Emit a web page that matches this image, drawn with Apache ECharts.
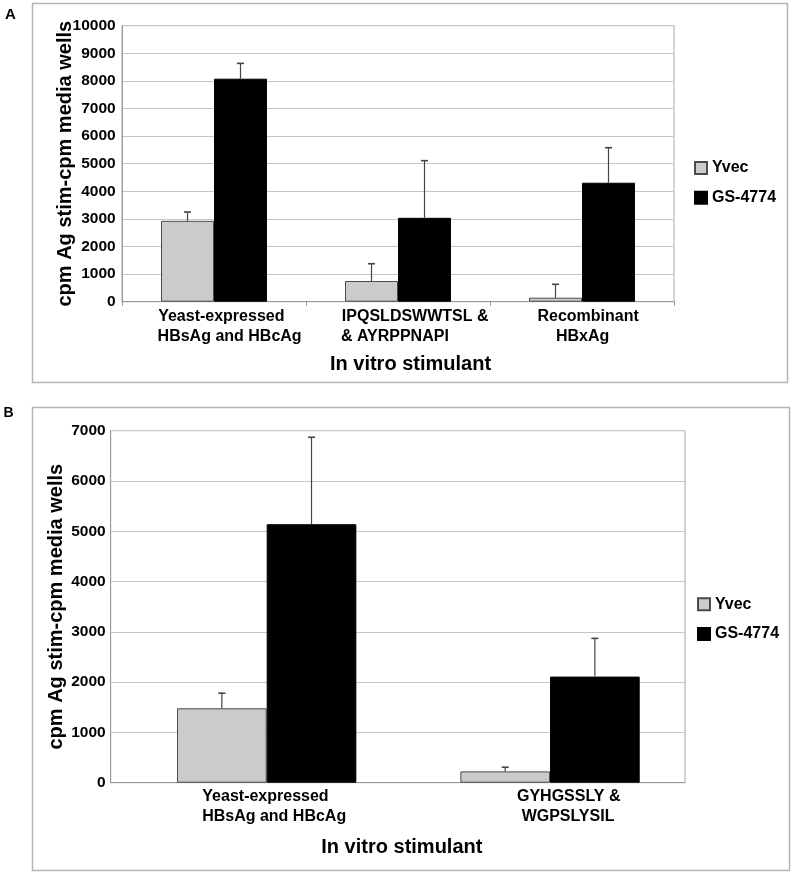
<!DOCTYPE html>
<html><head><meta charset="utf-8">
<script src="https://cdn.jsdelivr.net/npm/echarts@6/dist/echarts.min.js"></script>
<style>html,body{margin:0;padding:0;background:#fff}#c{width:794px;height:875px}</style>
</head><body><div id="c"></div>
<script>
// ---------- data ----------
const seriesNames = ["Yvec", "GS-4774"];
const xTitle = "In vitro stimulant";
const yTitle = "cpm Ag stim-cpm media wells";

// Panel A
const catsA = [["Yeast-expressed", "HBsAg and HBcAg"], ["IPQSLDSWWTSL &", "& AYRPPNAPI"], ["Recombinant", "HBxAg"]];
const yvecA = [2930, 750, 145];
const yvecAErr = [320, 625, 485];
const gsA = [8080, 3040, 4310];
const gsAErr = [555, 2070, 1270];
const yTicksA = [0, 1000, 2000, 3000, 4000, 5000, 6000, 7000, 8000, 9000, 10000];

// Panel B
const catsB = [["Yeast-expressed", "HBsAg and HBcAg"], ["GYHGSSLY &", "WGPSLYSIL"]];
const yvecB = [1480, 225];
const yvecBErr = [300, 82];
const gsB = [5140, 2110];
const gsBErr = [1730, 760];
const yTicksB = [0, 1000, 2000, 3000, 4000, 5000, 6000, 7000];

// ---------- styles ----------
const FF = "'Liberation Sans', Arial, Helvetica, sans-serif";
const GRID_COLOR = '#c6c6c6';
const FRAME_COLOR = '#a8a8a8';
const YVEC_COLOR = '#cbcbcb';
const GAP_A = 0.424, GAP_B = 0.367;

function richFor(shifts) {
  const r = {};
  shifts.forEach((s, i) => {
    ['a', 'b'].forEach((k, j) => {
      const v = s[j];
      r[k + i] = {
        fontFamily: FF, fontSize: 16, fontWeight: 'bold', color: '#000', lineHeight: 20,
        padding: v >= 0 ? [0, 0, 0, 2 * v] : [0, -2 * v, 0, 0]
      };
    });
  });
  return r;
}
function labelFmt(cats) {
  return (val, idx) => `{a${idx}|${cats[idx][0]}}\n{b${idx}|${cats[idx][1]}}`;
}
function errSeries(name, vals, errs, k, gap, xi, yi) {
  return {
    type: 'custom', name: name, xAxisIndex: xi, yAxisIndex: yi, z: 5, silent: true,
    data: vals.map((v, i) => [i, v, v + errs[i]]),
    encode: { x: 0, y: [1, 2] },
    renderItem: (params, api) => {
      const c = api.coord([api.value(0), api.value(1)]);
      const t = api.coord([api.value(0), api.value(2)]);
      const cw = api.size([1, 0])[0];
      const bw = cw * (1 - gap) / 2;
      const x = c[0] + (k - 0.5) * bw;
      return {
        type: 'group', children: [
          { type: 'line', shape: { x1: x, y1: c[1], x2: x, y2: t[1] }, style: { stroke: '#444', lineWidth: 1.2 } },
          { type: 'line', shape: { x1: x - 3.5, y1: t[1], x2: x + 3.5, y2: t[1] }, style: { stroke: '#444', lineWidth: 1.6 } }
        ]
      };
    }
  };
}
const yLabel = { fontFamily: FF, fontSize: 15.5, fontWeight: 'bold', color: '#000', formatter: v => String(v) };
const nameStyle = { fontFamily: FF, fontSize: 20, fontWeight: 'bold', color: '#000' };
const legendText = { fontFamily: FF, fontSize: 16, fontWeight: 'bold', color: '#000', lineHeight: 16 };

const option = {
  animation: false,
  backgroundColor: '#fff',
  graphic: [
    { type: 'rect', shape: { x: 32.5, y: 3.5, width: 755, height: 379 }, style: { fill: 'none', stroke: '#b4b4b4', lineWidth: 1.5 }, z: -1 },
    { type: 'rect', shape: { x: 32.5, y: 407.5, width: 757, height: 463 }, style: { fill: 'none', stroke: '#b4b4b4', lineWidth: 1.5 }, z: -1 },
    { type: 'text', x: 10.5, y: 15, style: { text: 'A', font: "bold 15px 'Liberation Sans', Arial, sans-serif", fill: '#000', align: 'center', verticalAlign: 'middle' } },
    { type: 'text', x: 8.5, y: 413.5, style: { text: 'B', font: "bold 14px 'Liberation Sans', Arial, sans-serif", fill: '#000', align: 'center', verticalAlign: 'middle' } }
  ],
  legend: [
    { data: seriesNames, orient: 'vertical', left: 689, top: 155, itemWidth: 12, itemHeight: 12, itemGap: 13.7, icon: 'rect', textStyle: legendText, selectedMode: false },
    { data: seriesNames, orient: 'vertical', left: 692, top: 591.3, itemWidth: 12, itemHeight: 12, itemGap: 13.7, icon: 'rect', textStyle: legendText, selectedMode: false }
  ],
  grid: [
    { left: 122, top: 25.7, width: 552, height: 276, show: true, borderColor: FRAME_COLOR, borderWidth: 1 },
    { left: 110.7, top: 430.7, width: 574.3, height: 352, show: true, borderColor: FRAME_COLOR, borderWidth: 1 },
    { left: 125, top: 430.7, width: 566.7, height: 352 }
  ],
  xAxis: [
    {
      gridIndex: 0, type: 'category', data: catsA.map(c => c.join(' ')),
      axisLine: { lineStyle: { color: '#999', width: 1 } },
      axisTick: { show: true, length: 4, lineStyle: { color: '#999' } },
      axisLabel: { interval: 0, margin: 5, formatter: labelFmt(catsA), rich: richFor([[7.3, 15.6], [17.2, -3.1], [6.1, 0.6]]) },
      name: xTitle, nameLocation: 'middle', nameGap: 52.3, nameMoveOverlap: false,
      nameTextStyle: Object.assign({ padding: [0, 0, 0, 25] }, nameStyle)
    },
    {
      gridIndex: 1, type: 'category', data: catsB.map(c => c.join(' ')),
      axisLine: { lineStyle: { color: '#999', width: 1 } },
      axisTick: { show: false }, axisLabel: { show: false },
      name: xTitle, nameLocation: 'middle', nameGap: 54.6, nameMoveOverlap: false,
      nameTextStyle: Object.assign({ padding: [0, 0, 0, 8] }, nameStyle)
    },
    {
      gridIndex: 2, type: 'category', data: catsB.map(c => c.join(' ')),
      axisLine: { show: false }, axisTick: { show: false },
      axisLabel: { interval: 0, margin: 4.3, formatter: labelFmt(catsB), rich: richFor([[-1.2, 7.5], [18.7, 18]]) }
    }
  ],
  yAxis: [
    {
      gridIndex: 0, type: 'value', min: yTicksA[0], max: yTicksA[yTicksA.length - 1], interval: yTicksA[1] - yTicksA[0],
      axisLine: { show: true, lineStyle: { color: '#999' } }, axisTick: { show: false },
      splitLine: { lineStyle: { color: GRID_COLOR, width: 1 } },
      axisLabel: Object.assign({ margin: 6.3 }, yLabel),
      name: yTitle, nameLocation: 'middle', nameGap: 47, nameMoveOverlap: false, nameTextStyle: nameStyle
    },
    {
      gridIndex: 1, type: 'value', min: yTicksB[0], max: yTicksB[yTicksB.length - 1], interval: yTicksB[1] - yTicksB[0],
      axisLine: { show: true, lineStyle: { color: '#999' } }, axisTick: { show: false },
      splitLine: { lineStyle: { color: GRID_COLOR, width: 1 } },
      axisLabel: Object.assign({ margin: 5 }, yLabel),
      name: yTitle, nameLocation: 'middle', nameGap: 44, nameMoveOverlap: false, nameTextStyle: nameStyle
    },
    {
      gridIndex: 2, type: 'value', min: yTicksB[0], max: yTicksB[yTicksB.length - 1], interval: yTicksB[1] - yTicksB[0],
      show: false, splitLine: { show: false }
    }
  ],
  series: [
    { name: seriesNames[0], type: 'bar', xAxisIndex: 0, yAxisIndex: 0, data: yvecA, barGap: '0%', barCategoryGap: (GAP_A * 100) + '%',
      itemStyle: { color: YVEC_COLOR, borderColor: '#4a4a4a', borderWidth: 1 } },
    { name: seriesNames[1], type: 'bar', xAxisIndex: 0, yAxisIndex: 0, data: gsA, barGap: '0%', barCategoryGap: (GAP_A * 100) + '%',
      itemStyle: { color: '#000', borderColor: '#000', borderWidth: 1 } },
    errSeries('Yvec err A', yvecA, yvecAErr, 0, GAP_A, 0, 0),
    errSeries('GS err A', gsA, gsAErr, 1, GAP_A, 0, 0),
    { name: seriesNames[0], type: 'bar', xAxisIndex: 2, yAxisIndex: 2, data: yvecB, barGap: '0%', barCategoryGap: (GAP_B * 100) + '%',
      itemStyle: { color: YVEC_COLOR, borderColor: '#4a4a4a', borderWidth: 1 } },
    { name: seriesNames[1], type: 'bar', xAxisIndex: 2, yAxisIndex: 2, data: gsB, barGap: '0%', barCategoryGap: (GAP_B * 100) + '%',
      itemStyle: { color: '#000', borderColor: '#000', borderWidth: 1 } },
    errSeries('Yvec err B', yvecB, yvecBErr, 0, GAP_B, 2, 2),
    errSeries('GS err B', gsB, gsBErr, 1, GAP_B, 2, 2)
  ]
};
const chart = echarts.init(document.getElementById('c'), null, { renderer: 'canvas' });
chart.setOption(option);
</script>
</body></html>
